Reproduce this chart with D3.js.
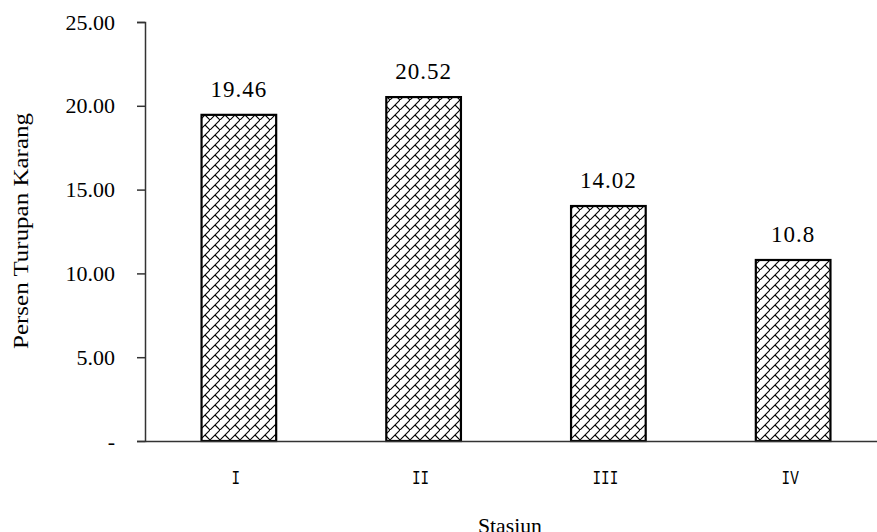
<!DOCTYPE html>
<html><head><meta charset="utf-8">
<script src="https://cdn.jsdelivr.net/npm/d3@7"></script>
<style>body{margin:0;background:#fff}svg{display:block}</style>
</head><body>
<script>
const categories = ["I", "II", "III", "IV"];
const values = [19.46, 20.52, 14.02, 10.8];
const valueLabels = ["19.46", "20.52", "14.02", "10.8"];
const yTicks = [0, 5, 10, 15, 20, 25];
const yTickLabels = ["-", "5.00", "10.00", "15.00", "20.00", "25.00"];

const W = 877, H = 532;
const SERIF = "'Liberation Serif', 'Times New Roman', 'DejaVu Serif', serif";
const MONO = "'Liberation Mono', 'Courier New', 'DejaVu Sans Mono', monospace";
const svg = d3.select("body").append("svg").attr("width", W).attr("height", H);

const defs = svg.append("defs");
const pat = defs.append("pattern").attr("id", "brick").attr("patternUnits", "userSpaceOnUse")
  .attr("width", 10).attr("height", 10);
pat.append("rect").attr("width", 10).attr("height", 10).attr("fill", "#fff");
pat.append("path").attr("d", "M-1,11L11,-1M5,5L10,10").attr("stroke", "#000").attr("stroke-width", 1.1).attr("fill", "none");

const x = d3.scaleBand().domain(categories).range([145, 887]).paddingInner(0.596).paddingOuter(0.306);
const y = d3.scaleLinear().domain([0, 25]).range([441, 22]);

// bars
svg.append("g").selectAll("rect").data(values).join("rect")
  .attr("x", (d, i) => x(categories[i]))
  .attr("y", d => y(d))
  .attr("width", x.bandwidth())
  .attr("height", d => y(0) - y(d))
  .attr("fill", "url(#brick)")
  .attr("stroke", "#000").attr("stroke-width", 2.2);

// value labels
svg.append("g").selectAll("text").data(values).join("text")
  .attr("x", (d, i) => x(categories[i]) + x.bandwidth() / 2)
  .attr("y", d => y(d) - 18)
  .attr("text-anchor", "middle")
  .style("font-family", SERIF).style("font-size", "23px").style("letter-spacing", "1px")
  .text((d, i) => valueLabels[i]);

// y axis
const yAxis = d3.axisLeft(y).tickValues(yTicks).tickSize(8).tickPadding(22)
  .tickFormat((d, i) => yTickLabels[i]);
const gy = svg.append("g").attr("transform", "translate(145,0)").call(yAxis);
gy.select(".domain").attr("stroke", "#333").attr("stroke-width", 1.5);
gy.selectAll(".tick line").attr("stroke", "#333").attr("stroke-width", 1.5);
gy.selectAll(".tick text").style("font-family", SERIF).style("font-size", "22px").attr("fill", "#000");

// x axis
const xAxis = d3.axisBottom(x).tickSize(0).tickPadding(0);
const gx = svg.append("g").attr("transform", "translate(0,441)").call(xAxis);
gx.select(".domain").attr("stroke", "#333").attr("stroke-width", 1.5);
gx.selectAll(".tick text")
  .attr("dy", null).attr("y", 43).attr("x", -3)
  .style("font-family", MONO).style("font-size", "21px").attr("fill", "#000")
  .attr("textLength", d => d.length * 8.6).attr("lengthAdjust", "spacingAndGlyphs");

// axis titles
svg.append("text").attr("x", 510).attr("y", 533).attr("text-anchor", "middle")
  .style("font-family", SERIF).style("font-size", "22px")
  .attr("textLength", 64).attr("lengthAdjust", "spacingAndGlyphs").text("Stasiun");
svg.append("text").attr("transform", "translate(28,231) rotate(-90)").attr("text-anchor", "middle")
  .style("font-family", SERIF).style("font-size", "21px")
  .attr("textLength", 236).attr("lengthAdjust", "spacingAndGlyphs").text("Persen Turupan Karang");
</script>
</body></html>
